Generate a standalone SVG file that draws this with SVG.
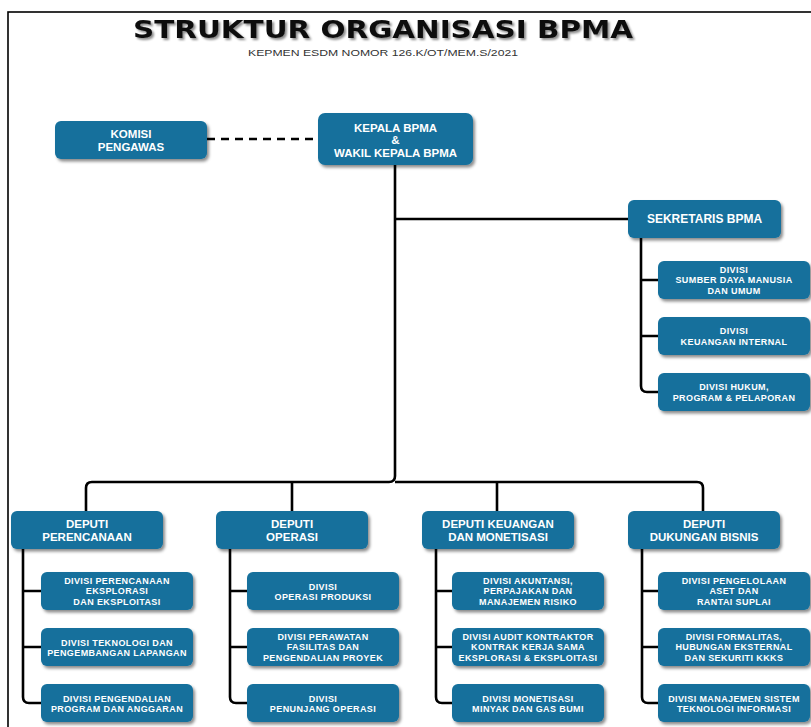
<svg xmlns="http://www.w3.org/2000/svg" width="811" height="727" viewBox="0 0 811 727">
<defs>
<filter id="sh" x="-10%" y="-20%" width="125%" height="150%">
<feDropShadow dx="2" dy="2.5" stdDeviation="1.5" flood-color="#000" flood-opacity="0.45"/>
</filter>
<filter id="tsh" x="-5%" y="-30%" width="110%" height="170%">
<feDropShadow dx="2" dy="2" stdDeviation="1.2" flood-color="#000" flood-opacity="0.45"/>
</filter>
</defs>
<style>
.box{fill:#14709c;filter:url(#sh)}
.t{font-family:"Liberation Sans",Arial,sans-serif;font-weight:bold;fill:#fff;text-anchor:middle}
.t12{font-size:11.5px}
.d{font-size:9px;letter-spacing:0.4px}
.ln{fill:none;stroke:#000;stroke-width:2.6;stroke-linejoin:round}
</style>
<rect width="811" height="727" fill="#fff"/>
<rect x="8" y="12" width="830" height="760" fill="none" stroke="#000" stroke-width="1.6"/>
<text x="383" y="38" font-family="'DejaVu Sans',Verdana,sans-serif" font-weight="bold" font-size="25" text-anchor="middle" textLength="500" lengthAdjust="spacingAndGlyphs" fill="#111" filter="url(#tsh)">STRUKTUR ORGANISASI BPMA</text>
<text x="383" y="56" font-family="'Liberation Sans',Arial,sans-serif" font-size="9.5" text-anchor="middle" textLength="270" lengthAdjust="spacingAndGlyphs" fill="#333">KEPMEN ESDM NOMOR 126.K/OT/MEM.S/2021</text>

<g id="connectors">
<line class="ln" x1="207" y1="139" x2="318" y2="139" stroke-dasharray="8,6" stroke-width="3"/>
<path class="ln" d="M395,165 V476 Q395,482 389,482 H92 Q86,482 86,488 V511"/>
<path class="ln" d="M395,482 H697 Q703,482 703,488 V511"/>
<path class="ln" d="M292,482 V511 M497,482 V511"/>
<path class="ln" d="M395,219 H628"/>
<path class="ln" d="M641,238 V386 Q641,392 647,392 H658 M641,280 H658 M641,336 H658"/>
<path class="ln" d="M23,549 V697 Q23,703 29,703 H41 M23,591 H41 M23,647 H41"/>
<path class="ln" d="M230,549 V697 Q230,703 236,703 H247 M230,591 H247 M230,647 H247"/>
<path class="ln" d="M436,549 V697 Q436,703 442,703 H452 M436,591 H452 M436,647 H452"/>
<path class="ln" d="M642,549 V697 Q642,703 648,703 H658 M642,591 H658 M642,647 H658"/>
</g>

<g id="komisi"><rect class="box" x="55" y="121" width="152" height="38" rx="6"/>
<text class="t t12"><tspan x="131" y="137.5">KOMISI</tspan><tspan x="131" y="150.8">PENGAWAS</tspan></text></g>

<g id="kepala"><rect class="box" x="318" y="113" width="155" height="52" rx="7"/>
<text class="t" font-size="11.5"><tspan x="395.5" y="132">KEPALA BPMA</tspan><tspan x="395.5" y="144">&amp;</tspan><tspan x="395.5" y="156.5">WAKIL KEPALA BPMA</tspan></text></g>

<g id="sekretaris"><rect class="box" x="628" y="200" width="153" height="38" rx="6"/>
<text class="t" font-size="12" x="704.5" y="223">SEKRETARIS BPMA</text></g>

<g id="div-sdm"><rect class="box" x="658" y="261" width="152" height="38" rx="6"/>
<text class="t d"><tspan x="734" y="272.5">DIVISI</tspan><tspan x="734" y="283">SUMBER DAYA MANUSIA</tspan><tspan x="734" y="293.5">DAN UMUM</tspan></text></g>
<g id="div-keuint"><rect class="box" x="658" y="317" width="152" height="38" rx="6"/>
<text class="t d"><tspan x="734" y="334">DIVISI</tspan><tspan x="734" y="344.5">KEUANGAN INTERNAL</tspan></text></g>
<g id="div-hukum"><rect class="box" x="658" y="373" width="152" height="38" rx="6"/>
<text class="t d"><tspan x="734" y="390">DIVISI HUKUM,</tspan><tspan x="734" y="400.5">PROGRAM &amp; PELAPORAN</tspan></text></g>

<g id="dep-perencanaan"><rect class="box" x="11" y="511" width="152" height="38" rx="6"/>
<text class="t t12"><tspan x="87" y="528">DEPUTI</tspan><tspan x="87" y="541.3">PERENCANAAN</tspan></text></g>
<g id="dep-operasi"><rect class="box" x="216" y="511" width="152" height="38" rx="6"/>
<text class="t t12"><tspan x="292" y="528">DEPUTI</tspan><tspan x="292" y="541.3">OPERASI</tspan></text></g>
<g id="dep-keuangan"><rect class="box" x="422" y="511" width="152" height="38" rx="6"/>
<text class="t t12"><tspan x="498" y="528">DEPUTI KEUANGAN</tspan><tspan x="498" y="541.3">DAN MONETISASI</tspan></text></g>
<g id="dep-dukungan"><rect class="box" x="628" y="511" width="152" height="38" rx="6"/>
<text class="t t12"><tspan x="704" y="528">DEPUTI</tspan><tspan x="704" y="541.3">DUKUNGAN BISNIS</tspan></text></g>

<g id="div-pee"><rect class="box" x="41" y="572" width="152" height="38" rx="6"/>
<text class="t d"><tspan x="117" y="583.5">DIVISI PERENCANAAN</tspan><tspan x="117" y="594">EKSPLORASI</tspan><tspan x="117" y="604.5">DAN EKSPLOITASI</tspan></text></g>
<g id="div-tpl"><rect class="box" x="41" y="628" width="152" height="38" rx="6"/>
<text class="t d"><tspan x="117" y="645.5">DIVISI TEKNOLOGI DAN</tspan><tspan x="117" y="656">PENGEMBANGAN LAPANGAN</tspan></text></g>
<g id="div-ppa"><rect class="box" x="41" y="684" width="152" height="38" rx="6"/>
<text class="t d"><tspan x="117" y="701.5">DIVISI PENGENDALIAN</tspan><tspan x="117" y="712">PROGRAM DAN ANGGARAN</tspan></text></g>

<g id="div-op"><rect class="box" x="247" y="572" width="152" height="38" rx="6"/>
<text class="t d"><tspan x="323" y="589.5">DIVISI</tspan><tspan x="323" y="600">OPERASI PRODUKSI</tspan></text></g>
<g id="div-pfp"><rect class="box" x="247" y="628" width="152" height="38" rx="6"/>
<text class="t d"><tspan x="323" y="639.5">DIVISI PERAWATAN</tspan><tspan x="323" y="650">FASILITAS DAN</tspan><tspan x="323" y="660.5">PENGENDALIAN PROYEK</tspan></text></g>
<g id="div-po"><rect class="box" x="247" y="684" width="152" height="38" rx="6"/>
<text class="t d"><tspan x="323" y="701.5">DIVISI</tspan><tspan x="323" y="712">PENUNJANG OPERASI</tspan></text></g>

<g id="div-apm"><rect class="box" x="452" y="572" width="152" height="38" rx="6"/>
<text class="t d"><tspan x="528" y="583.5">DIVISI AKUNTANSI,</tspan><tspan x="528" y="594">PERPAJAKAN DAN</tspan><tspan x="528" y="604.5">MANAJEMEN RISIKO</tspan></text></g>
<g id="div-audit"><rect class="box" x="452" y="628" width="152" height="38" rx="6"/>
<text class="t d"><tspan x="528" y="639.5">DIVISI AUDIT KONTRAKTOR</tspan><tspan x="528" y="650">KONTRAK KERJA SAMA</tspan><tspan x="528" y="660.5">EKSPLORASI &amp; EKSPLOITASI</tspan></text></g>
<g id="div-mon"><rect class="box" x="452" y="684" width="152" height="38" rx="6"/>
<text class="t d"><tspan x="528" y="701.5">DIVISI MONETISASI</tspan><tspan x="528" y="712">MINYAK DAN GAS BUMI</tspan></text></g>

<g id="div-aset"><rect class="box" x="658" y="572" width="152" height="38" rx="6"/>
<text class="t d"><tspan x="734" y="583.5">DIVISI PENGELOLAAN</tspan><tspan x="734" y="594">ASET DAN</tspan><tspan x="734" y="604.5">RANTAI SUPLAI</tspan></text></g>
<g id="div-form"><rect class="box" x="658" y="628" width="152" height="38" rx="6"/>
<text class="t d"><tspan x="734" y="639.5">DIVISI FORMALITAS,</tspan><tspan x="734" y="650">HUBUNGAN EKSTERNAL</tspan><tspan x="734" y="660.5">DAN SEKURITI KKKS</tspan></text></g>
<g id="div-ti"><rect class="box" x="658" y="684" width="152" height="38" rx="6"/>
<text class="t d"><tspan x="734" y="701.5">DIVISI MANAJEMEN SISTEM</tspan><tspan x="734" y="712">TEKNOLOGI INFORMASI</tspan></text></g>
</svg>
